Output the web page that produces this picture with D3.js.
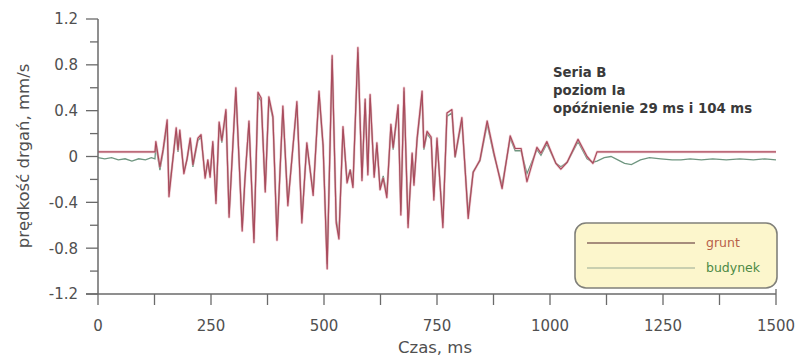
<!DOCTYPE html>
<html>
<head>
<meta charset="utf-8">
<script src="https://cdn.jsdelivr.net/npm/d3@7"></script>
<style>
  html, body { margin: 0; padding: 0; background: #fff; }
  svg { display: block; font-family: "DejaVu Sans", Verdana, sans-serif; }
</style>
</head>
<body>
<svg id="chart" width="800" height="356"></svg>
<script>
// Ground (grunt) velocity record: time [ms] and value [mm/s]
const gruntTime = [0, 126, 128, 137, 144, 153, 157, 173, 177, 181, 190, 197, 204, 210, 221, 228, 237, 243, 248, 254,
  261, 268, 274, 283, 290, 305, 319, 325, 334, 345, 354, 361, 370, 378, 387, 396, 409, 420, 440, 451,
  462, 476, 489, 498, 507, 518, 527, 533, 542, 551, 558, 564, 575, 584, 591, 597, 602, 611, 617, 624,
  631, 639, 648, 653, 664, 670, 677, 686, 695, 699, 706, 717, 721, 728, 737, 743, 750, 763, 772, 783,
  790, 805, 819, 830, 845, 861, 876, 894, 912, 923, 936, 949, 971, 980, 993, 1013, 1024, 1038, 1062, 1082,
  1095, 1104, 1500];
const gruntValue = [0.04, 0.04, 0.13, -0.09, 0.06, 0.32, -0.35, 0.25, 0.06, 0.23, -0.15, -0.02, 0.16, -0.07, 0.16, 0.19, -0.19, -0.03, -0.18, 0.13,
  -0.41, 0.30, 0.14, 0.41, -0.53, 0.60, -0.65, -0.21, 0.31, -0.75, 0.56, 0.51, -0.31, 0.52, 0.35, -0.73, 0.44, -0.43, 0.48, -0.58,
  0.12, -0.34, 0.57, 0.10, -0.98, 0.88, -0.58, -0.72, 0.26, -0.23, -0.12, -0.27, 0.95, -0.21, 0.50, -0.16, 0.54, -0.18, 0.12, -0.29,
  -0.19, -0.36, 0.28, 0.08, 0.45, -0.51, 0.60, -0.62, 0.03, -0.25, 0.16, 0.57, 0.08, 0.22, 0.17, -0.38, 0.16, -0.62, 0.38, 0.41,
  0.00, 0.34, -0.54, -0.14, -0.03, 0.31, 0.03, -0.28, 0.18, 0.07, 0.07, -0.22, 0.08, 0.03, 0.13, -0.06, -0.11, -0.05, 0.15, 0.00,
  -0.06, 0.04, 0.04];

// Building (budynek) velocity record: time [ms] and value [mm/s]
const budynekTime = [0, 15, 30, 45, 60, 75, 90, 105, 118, 126, 128, 137, 144, 153, 157, 173, 177, 181, 190, 197,
  204, 210, 221, 228, 237, 243, 248, 254, 261, 268, 274, 283, 290, 305, 319, 325, 334, 345, 354, 361,
  370, 378, 387, 396, 409, 420, 440, 451, 462, 476, 489, 498, 507, 518, 527, 533, 542, 551, 558, 564,
  575, 584, 591, 597, 602, 611, 617, 624, 631, 639, 648, 653, 664, 670, 677, 686, 695, 699, 706, 717,
  721, 728, 737, 743, 750, 763, 772, 783, 790, 805, 819, 830, 845, 861, 876, 894, 912, 923, 936, 949,
  971, 980, 993, 1013, 1024, 1038, 1062, 1082, 1095, 1104, 1120, 1135, 1150, 1165, 1180, 1200, 1220, 1245, 1270, 1290,
  1310, 1335, 1360, 1390, 1420, 1450, 1475, 1500];
const budynekValue = [-0.01, -0.02, -0.01, -0.03, -0.02, -0.04, -0.02, -0.03, -0.01, -0.02, 0.10, -0.12, 0.04, 0.28, -0.30, 0.22, 0.04, 0.20, -0.13, -0.03,
  0.14, -0.09, 0.14, 0.17, -0.17, -0.05, -0.16, 0.11, -0.39, 0.28, 0.12, 0.39, -0.50, 0.57, -0.62, -0.19, 0.29, -0.72, 0.53, 0.48,
  -0.29, 0.49, 0.33, -0.70, 0.41, -0.40, 0.45, -0.55, 0.10, -0.31, 0.54, 0.08, -0.94, 0.85, -0.55, -0.69, 0.24, -0.21, -0.11, -0.25,
  0.91, -0.19, 0.47, -0.14, 0.51, -0.16, 0.10, -0.27, -0.17, -0.33, 0.26, 0.06, 0.42, -0.48, 0.57, -0.59, 0.02, -0.23, 0.14, 0.54,
  0.06, 0.20, 0.15, -0.35, 0.14, -0.58, 0.35, 0.38, -0.01, 0.31, -0.50, -0.13, -0.04, 0.28, 0.01, -0.25, 0.16, 0.05, 0.05, -0.15,
  0.06, 0.01, 0.11, -0.06, -0.09, -0.05, 0.13, -0.02, -0.05, -0.04, -0.01, 0.00, -0.03, -0.06, -0.07, -0.03, -0.01, -0.02, -0.03, -0.03,
  -0.02, -0.03, -0.02, -0.03, -0.02, -0.03, -0.02, -0.03];

const xTicks = [0, 125, 250, 375, 500, 625, 750, 875, 1000, 1125, 1250, 1375, 1500];
const xTickLabels = [0, 250, 500, 750, 1000, 1250, 1500];
const yTicks = [-1.2, -1.0, -0.8, -0.6, -0.4, -0.2, 0, 0.2, 0.4, 0.6, 0.8, 1.0, 1.2];
const yTickLabels = [-1.2, -0.8, -0.4, 0, 0.4, 0.8, 1.2];

const seriesNames = ["grunt", "budynek"];
const notes = ["Seria B", "poziom Ia", "opóźnienie 29 ms i 104 ms"];

const svg = d3.select("#chart");
const x = d3.scaleLinear().domain([0, 1500]).range([98, 776]);
const y = d3.scaleLinear().domain([-1.2, 1.2]).range([294, 19]);

const axisColor = "#6a6a6a";
const textColor = "#505050";

// Signal traces: building underneath, ground on top
const line = d3.line().x(d => x(d[0])).y(d => y(d[1]));
const budynekPts = budynekTime.map((t, i) => [t, budynekValue[i]]);
const gruntPts = gruntTime.map((t, i) => [t, gruntValue[i]]);

svg.append("path").datum(budynekPts)
  .attr("d", line).attr("fill", "none")
  .attr("stroke", "#6f9680").attr("stroke-width", 1.3);
svg.append("path").datum(gruntPts)
  .attr("d", line).attr("fill", "none")
  .attr("stroke", "#e6a4ae").attr("stroke-width", 2.6).attr("stroke-opacity", 0.55)
  .attr("stroke-linejoin", "round");
svg.append("path").datum(gruntPts)
  .attr("d", line).attr("fill", "none")
  .attr("stroke", "#aa4b5d").attr("stroke-width", 1.2)
  .attr("stroke-linejoin", "round");

// Y axis
const yAxisG = svg.append("g").attr("transform", "translate(98,0)");
yAxisG.append("line").attr("x1", 0).attr("x2", 0)
  .attr("y1", y(1.2)).attr("y2", y(-1.2))
  .attr("stroke", axisColor).attr("stroke-width", 1.5);
yAxisG.selectAll("line.tick").data(yTicks).enter().append("line")
  .attr("class", "tick")
  .attr("x1", d => yTickLabels.some(v => Math.abs(v - d) < 1e-9) ? -12 : -8)
  .attr("x2", 0)
  .attr("y1", d => y(d)).attr("y2", d => y(d))
  .attr("stroke", axisColor).attr("stroke-width", 1.3);
yAxisG.selectAll("text").data(yTickLabels).enter().append("text")
  .attr("x", -20).attr("y", d => y(d)).attr("dy", "0.36em")
  .attr("text-anchor", "end").attr("font-size", 15).attr("fill", textColor)
  .text(d => d === 0 ? "0" : d3.format(".1f")(d).replace("−", "-"));

// X axis
const xAxisG = svg.append("g").attr("transform", `translate(0,${y(-1.2)})`);
xAxisG.append("line").attr("x1", 86).attr("x2", 776)
  .attr("stroke", axisColor).attr("stroke-width", 1.5);
xAxisG.selectAll("line.tick").data(xTicks).enter().append("line")
  .attr("class", "tick")
  .attr("x1", d => x(d)).attr("x2", d => x(d))
  .attr("y1", 0).attr("y2", 11)
  .attr("stroke", axisColor).attr("stroke-width", 1.3);
xAxisG.append("line").attr("x1", x(1500)).attr("x2", x(1500))
  .attr("y1", -5).attr("y2", 0).attr("stroke", axisColor).attr("stroke-width", 1.3);
xAxisG.selectAll("text").data(xTickLabels).enter().append("text")
  .attr("x", d => x(d)).attr("y", 37)
  .attr("text-anchor", "middle").attr("font-size", 15).attr("fill", textColor)
  .text(d => d);

// Axis titles
svg.append("text").attr("x", 435).attr("y", 353)
  .attr("text-anchor", "middle").attr("font-size", 16.5).attr("fill", textColor)
  .text("Czas, ms");
svg.append("text")
  .attr("transform", "translate(29,156) rotate(-90)")
  .attr("text-anchor", "middle").attr("font-size", 16.5).attr("fill", textColor)
  .text("prędkość drgań, mm/s");

// Annotation
svg.append("g").selectAll("text").data(notes).enter().append("text")
  .attr("x", 553).attr("y", (d, i) => 77 + i * 18)
  .attr("font-size", 13.3).attr("font-weight", "bold").attr("fill", "#3a3a3a")
  .text(d => d);

// Legend
const lg = svg.append("g");
lg.append("rect").attr("x", 575).attr("y", 223).attr("width", 202).attr("height", 65)
  .attr("rx", 11).attr("fill", "#fcf6cc").attr("stroke", "#80807a").attr("stroke-width", 1.6);
const legendLineColors = ["#8a6a62", "#b9c2a6"];
const legendTextColors = ["#b8604a", "#4d8a45"];
seriesNames.forEach((name, i) => {
  const ly = 243 + i * 25;
  lg.append("line").attr("x1", 587).attr("x2", 695).attr("y1", ly).attr("y2", ly)
    .attr("stroke", legendLineColors[i]).attr("stroke-width", 1.3);
  lg.append("text").attr("x", 706).attr("y", ly).attr("dy", "0.35em")
    .attr("font-size", 12.5).attr("fill", legendTextColors[i]).text(name);
});
</script>
</body>
</html>
